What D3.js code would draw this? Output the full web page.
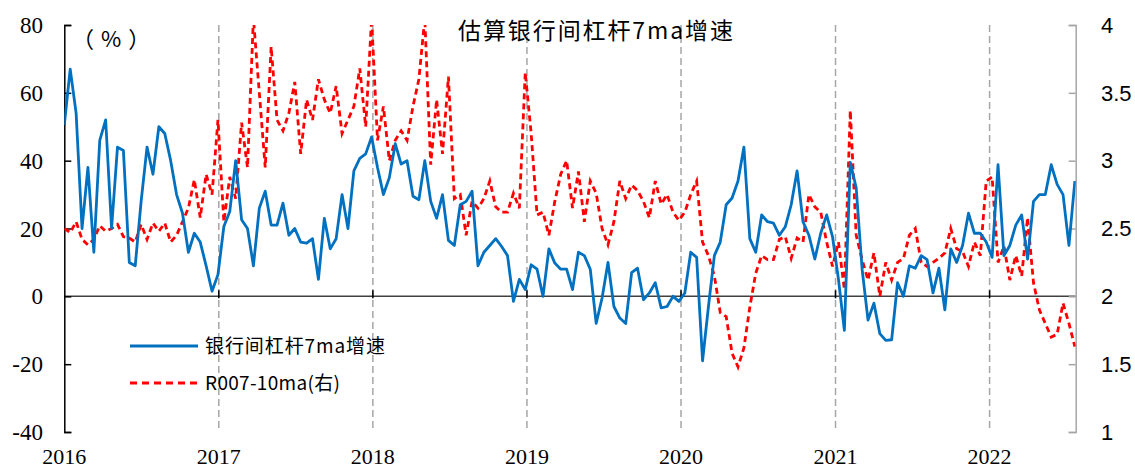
<!DOCTYPE html>
<html><head><meta charset="utf-8">
<script src="https://cdn.jsdelivr.net/npm/d3@7/dist/d3.min.js"></script>
<style>body{margin:0;background:#fff}svg{display:block}</style>
</head><body>
<svg id="c" width="1135" height="470"></svg>
<script>
// ---- data ----
const startDate = "2016-01-01";   // first observation
const stepDays = 14;              // observation interval (days)
const endDate = "2022-07-24";
const yearTicks = [2016, 2017, 2018, 2019, 2020, 2021, 2022];
const leftTicks = [-40, -20, 0, 20, 40, 60, 80];
const rightTicks = [1, 1.5, 2, 2.5, 3, 3.5, 4];
const titleText = "估算银行间杠杆7ma增速";
const unitText = "（%）";
const seriesNames = ["银行间杠杆7ma增速", "R007-10ma(右)"];

const leverage = [
 50.5,67,54,20,38,13,46,52,20,44, 43,10,9,28,44,36,50,48,40,30,
 24.5,13,18.6,16,9,1.5,6.4,20.6,25,40, 22.6,20,9,26,31,21,21,27.5,18,20,
 16,15.7,17,5,23,14,17,30,20,37, 40.7,42,47,38,30,35,45,39,40,29.5,
 28.5,40,28,23,30,16.5,15,27,28,31, 9,13,15,17,14.7,12,-1.5,5,2,9.3,
 8,0,14,9.8,8,8,2,13,12,8, -8,-0.5,10,-3,-6.4,-8,7,8.3,-1,1,
 4,-3.4,-3,0,-1.5,1,13,11.5,-19,-3, 12,16,27,29,34,44,17,13,24,22,
 21.6,18,20.5,27,37,22,18,11,18.6,24, 17.5,5,-10,39.5,32,8,-7,-2,-11,-13,
 -12.8,4,0,9,8.3,12,10.8,1,8.3,-4, 14,10,15,24.5,18.6,18.6,16,11.5,38.8,12,
 15,21,24,11,28,30,30,38.8,33,30, 15,34
];
const r007 = [
 2.50,2.47,2.55,2.42,2.38,2.42,2.52,2.48,2.50,2.53, 2.44,2.43,2.40,2.53,2.42,2.54,2.48,2.54,2.40,2.45,
 2.55,2.65,2.86,2.58,2.90,2.75,3.30,2.55,2.88,2.72, 3.28,2.95,4.05,3.5,2.95,3.84,3.3,3.22,3.35,3.58,
 3.05,3.45,3.3,3.6,3.45,3.35,3.55,3.2,3.3,3.4, 3.68,3.25,4.05,3.15,3.4,3.0,3.15,3.22,3.15,3.4,
 3.6,4.05,2.97,3.45,3.05,3.62,2.72,2.75,2.45,2.7, 2.65,2.72,2.85,2.66,2.62,2.62,2.76,2.65,3.65,3.2,
 2.6,2.62,2.45,2.7,2.9,3.0,2.65,2.92,2.55,2.85, 2.76,2.5,2.38,2.55,2.85,2.72,2.82,2.78,2.7,2.58,
 2.85,2.68,2.75,2.62,2.56,2.62,2.75,2.85,2.4,2.3, 2.15,1.88,1.85,1.58,1.48,1.62,1.92,2.17,2.3,2.27,
 2.27,2.42,2.44,2.28,2.43,2.4,2.75,2.66,2.62,2.4, 2.22,2.4,2.05,3.37,2.45,2.27,2.12,2.32,2.0,2.25,
 2.12,2.25,2.28,2.45,2.5,2.25,2.22,2.25,2.28,2.32, 2.5,2.35,2.33,2.22,2.4,2.3,2.85,2.88,2.25,2.37,
 2.12,2.3,2.15,2.58,2.1,1.9,1.8,1.7,1.72,1.95, 1.8,1.63
];

// ---- layout ----
const L = 64.3, R = 1075.7, T = 25, B = 432;
const svg = d3.select("#c");
const parse = d3.timeParse("%Y-%m-%d");
const t0 = parse(startDate);
const dates = leverage.map((_, i) => d3.timeDay.offset(t0, i * stepDays));

const x = d3.scaleTime().domain([t0, parse(endDate)]).range([L, R]);
const yL = d3.scaleLinear().domain([-40, 80]).range([B, T]);
const yR = d3.scaleLinear().domain([1, 4]).range([B, T]);

svg.append("defs").append("clipPath").attr("id", "clip")
  .append("rect").attr("x", L).attr("y", T).attr("width", R - L).attr("height", B - T);

// year dashed gridlines
const yearDates = yearTicks.map(y => new Date(y, 0, 1));
svg.append("g").selectAll("line").data(yearDates.slice(1)).join("line")
  .attr("x1", d => x(d)).attr("x2", d => x(d)).attr("y1", T).attr("y2", B)
  .attr("stroke", "#a6a6a6").attr("stroke-width", 1.5).attr("stroke-dasharray", "7,4");

// zero line (x-axis)
svg.append("line").attr("x1", L).attr("x2", R).attr("y1", yL(0)).attr("y2", yL(0))
  .attr("stroke", "#404040").attr("stroke-width", 1.5);
svg.append("g").selectAll("line").data(yearDates.slice(1)).join("line")
  .attr("x1", d => x(d)).attr("x2", d => x(d)).attr("y1", yL(0) - 6).attr("y2", yL(0) + 2)
  .attr("stroke", "#000").attr("stroke-width", 1.5);

// left axis
const gL = svg.append("g").attr("transform", `translate(${L},0)`)
  .call(d3.axisRight(yL).tickValues(leftTicks).tickSize(7).tickFormat(""));
gL.select(".domain").attr("stroke", "#000").attr("stroke-width", 1.5);
gL.selectAll(".tick line").attr("stroke", "#000").attr("stroke-width", 1.5);
svg.append("g").selectAll("text").data(leftTicks).join("text")
  .attr("x", 43).attr("y", d => yL(d)).attr("dy", "0.35em").attr("text-anchor", "end")
  .attr("font-family", "'Liberation Serif','Times New Roman',serif").attr("font-size", 23)
  .attr("fill", "#000").text(d => d);

// right axis
const gR = svg.append("g").attr("transform", `translate(${R},0)`)
  .call(d3.axisLeft(yR).tickValues(rightTicks).tickSize(7).tickFormat(""));
gR.select(".domain").attr("stroke", "#a6a6a6").attr("stroke-width", 1.5);
gR.selectAll(".tick line").attr("stroke", "#a6a6a6").attr("stroke-width", 1.5);
svg.append("g").selectAll("text").data(rightTicks).join("text")
  .attr("x", 1101).attr("y", d => yR(d)).attr("dy", "0.35em").attr("text-anchor", "start")
  .attr("font-family", "'Liberation Sans',Arial,sans-serif").attr("font-size", 22)
  .attr("fill", "#000").text(d => d);

// year labels
svg.append("g").selectAll("text").data(yearDates).join("text")
  .attr("x", d => x(d)).attr("y", 464).attr("text-anchor", "middle")
  .attr("font-family", "'Liberation Serif','Times New Roman',serif").attr("font-size", 22)
  .attr("fill", "#000").text(d => d.getFullYear());

// lines
const plot = svg.append("g").attr("clip-path", "url(#clip)");
plot.append("path").datum(r007)
  .attr("d", d3.line().x((d, i) => x(dates[i])).y(d => yR(d)))
  .attr("fill", "none").attr("stroke", "#ff0000").attr("stroke-width", 2.8)
  .attr("stroke-dasharray", "6,4");
plot.append("path").datum(leverage)
  .attr("d", d3.line().x((d, i) => x(dates[i])).y(d => yL(d)))
  .attr("fill", "none").attr("stroke", "#0070c0").attr("stroke-width", 2.8)
  .attr("stroke-linejoin", "round");

// title and unit
svg.append("text").attr("x", 458).attr("y", 39).attr("textLength", 275)
  .attr("font-family", "'Noto Sans CJK SC',sans-serif").attr("font-size", 23)
  .attr("fill", "#000").text(titleText);
svg.append("text").attr("x", 72).attr("y", 47).attr("letter-spacing", "7px")
  .attr("font-family", "'Noto Sans CJK SC',sans-serif").attr("font-size", 22)
  .attr("fill", "#000").text(unitText);

// legend
const lg = svg.append("g");
lg.append("line").attr("x1", 130).attr("x2", 198).attr("y1", 346).attr("y2", 346)
  .attr("stroke", "#0070c0").attr("stroke-width", 2.8);
lg.append("line").attr("x1", 130).attr("x2", 198).attr("y1", 383).attr("y2", 383)
  .attr("stroke", "#ff0000").attr("stroke-width", 2.8).attr("stroke-dasharray", "7,5");
lg.append("text").attr("x", 205).attr("y", 353).attr("textLength", 180)
  .attr("font-family", "'Noto Sans CJK SC',sans-serif").attr("font-size", 19)
  .attr("fill", "#000").text(seriesNames[0]);
lg.append("text").attr("x", 205).attr("y", 390).attr("textLength", 135)
  .attr("font-family", "'Noto Sans CJK SC',sans-serif").attr("font-size", 19)
  .attr("fill", "#000").text(seriesNames[1]);
</script>
</body></html>
